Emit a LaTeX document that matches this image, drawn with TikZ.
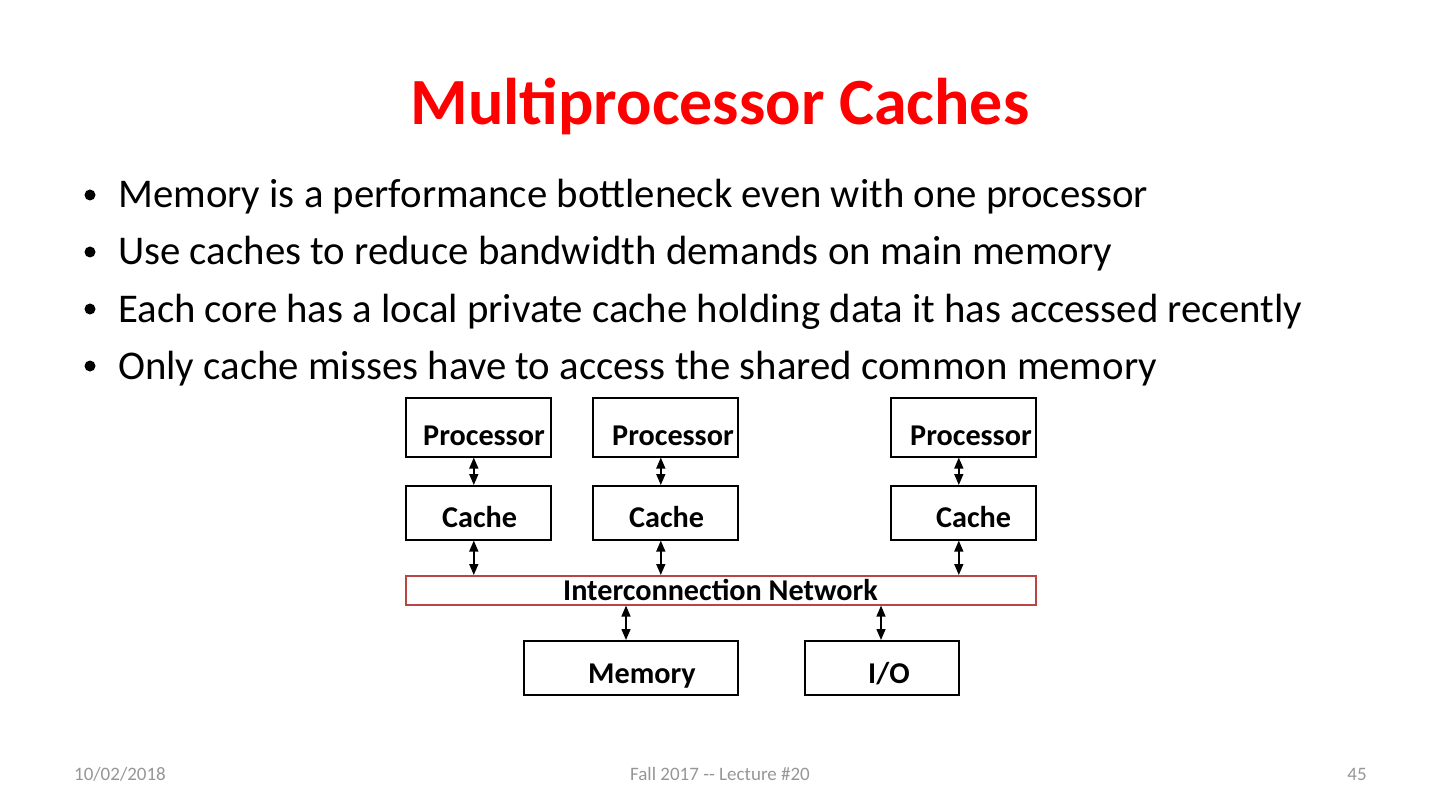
\documentclass[tikz,border=0pt]{standalone}
\usepackage{fontspec}
\setmainfont{Carlito}
\usetikzlibrary{arrows.meta}
\definecolor{titlered}{RGB}{255,0,0}
\definecolor{netred}{RGB}{185,70,68}
\definecolor{footgray}{RGB}{150,150,150}
\begin{document}
\begin{tikzpicture}[x=1pt,y=-1pt,
  box/.style={draw=black,line width=1.6pt,minimum width=#1,anchor=north west,inner sep=0pt},
  lbl/.style={anchor=base west,inner sep=0pt,font=\fontsize{30.2}{36}\selectfont\bfseries},
  bul/.style={anchor=base west,inner sep=0pt,font=\fontsize{40.8}{48}\selectfont},
  foot/.style={anchor=base,inner sep=0pt,text=footgray,font=\fontsize{19}{22}\selectfont},
  conn/.style={line width=1.5pt,{Triangle[length=11pt,width=9pt]}-{Triangle[length=11pt,width=9pt]}}]
\useasboundingbox (0,0) rectangle (1440,810);
% title
\node[anchor=base,inner sep=0pt,text=titlered,font=\fontsize{66}{78}\selectfont\bfseries] (title) at (720,125) {Multiprocessor Caches};
% bullets
\foreach \i/\y/\t in {1/208/{Memory is a performance bottleneck even with one processor},
                       2/265/{Use caches to reduce bandwidth demands on main memory},
                       3/322/{Each core has a local private cache holding data it has accessed recently},
                       4/379/{Only cache misses have to access the shared common memory}}{
  \node[bul] (b\i) at (118,\y) {\t};
  \fill (90,\y-13) circle (5.5) coordinate (d\i);
}
% processor boxes
\node[box=145pt,minimum height=59pt] (p1) at (405,397) {};
\node[box=145pt,minimum height=59pt] (p2) at (592,397) {};
\node[box=145pt,minimum height=59pt] (p3) at (890,397) {};
\node[lbl] (tp1) at (423,445) {Processor};
\node[lbl] (tp2) at (612,445) {Processor};
\node[lbl] (tp3) at (910,445) {Processor};
% cache boxes
\node[box=145pt,minimum height=54pt] (c1) at (405,485) {};
\node[box=145pt,minimum height=54pt] (c2) at (592,485) {};
\node[box=145pt,minimum height=54pt] (c3) at (890,485) {};
\node[lbl] (tc1) at (442,527) {Cache};
\node[lbl] (tc2) at (629,527) {Cache};
\node[lbl] (tc3) at (936,527) {Cache};
% network
\node[draw=netred,line width=1.6pt,minimum width=630pt,minimum height=29pt,anchor=north west,inner sep=0pt] (net) at (405,575) {};
\node[lbl] (tnet) at (563,600) {Interconnection Network};
% memory and io
\node[box=214pt,minimum height=54pt] (mem) at (523,640) {};
\node[box=154pt,minimum height=54pt] (io) at (804,640) {};
\node[lbl] (tmem) at (588,683) {Memory};
\node[lbl] (tio) at (868,683) {I/O};
% connectors
\draw[conn] ([xshift=-4.5pt]p1.south) -- ([xshift=-4.5pt]c1.north);
\draw[conn] ([xshift=-4.5pt]p2.south) -- ([xshift=-4.5pt]c2.north);
\draw[conn] ([xshift=-4.5pt]p3.south) -- ([xshift=-4.5pt]c3.north);
\draw[conn] ([xshift=-4.5pt]c1.south) -- ([xshift=-4.5pt]c1.south |- net.north);
\draw[conn] ([xshift=-4.5pt]c2.south) -- ([xshift=-4.5pt]c2.south |- net.north);
\draw[conn] ([xshift=-4.5pt]c3.south) -- ([xshift=-4.5pt]c3.south |- net.north);
\draw[conn] (mem.north -| 626,0) -- (net.south -| 626,0);
\draw[conn] (io.north -| 881,0) -- (net.south -| 881,0);
% footer
\node[foot] (date) at (120,780) {10/02/2018};
\node[foot] (course) at (720,780) {Fall 2017 {-}{-} Lecture \#20};
\node[foot] (page) at (1357,780) {45};
\end{tikzpicture}
\end{document}
